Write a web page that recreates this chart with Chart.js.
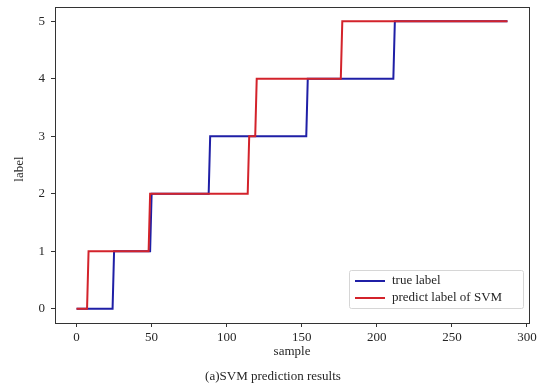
<!DOCTYPE html>
<html>
<head>
<meta charset="utf-8">
<script src="https://cdn.jsdelivr.net/npm/chart.js@4/dist/chart.umd.min.js"></script>
<style>
html,body{margin:0;padding:0;background:#fff;}
#wrap{width:544px;height:386px;position:relative;}
</style>
</head>
<body>
<div id="wrap"><canvas id="c" width="544" height="386"></canvas></div>
<script>
// Breakpoints of the step series (sample index, class label)
const trueX = [0, 24, 25, 49, 50, 88, 89, 153, 154, 211, 212, 287];
const trueY = [0, 0, 1, 1, 2, 2, 3, 3, 4, 4, 5, 5];
const predX = [0, 7, 8, 48, 49, 114, 115, 119, 120, 176, 177, 287];
const predY = [0, 0, 1, 1, 2, 2, 3, 3, 4, 4, 5, 5];
const xTicks = [0, 50, 100, 150, 200, 250, 300];
const yTicks = [0, 1, 2, 3, 4, 5];
const seriesNames = ['true label', 'predict label of SVM'];
const xTitle = 'sample';
const yTitle = 'label';
const caption = '(a)SVM prediction results';

const BLUE = '#1f1fa6';
const RED = '#d3232b';
const FONT = "'Liberation Serif', 'Times New Roman', serif";
const TXT = '#262626';

const toPts = (xs, ys) => xs.map((x, i) => ({x: x, y: ys[i]}));

const framePlugin = {
  id: 'frame',
  afterDraw(chart) {
    const {ctx, chartArea: a} = chart;
    ctx.save();
    ctx.strokeStyle = '#333';
    ctx.lineWidth = 1;
    ctx.strokeRect(Math.round(a.left) + 0.5, Math.round(a.top) + 0.5,
      Math.round(a.right - a.left), Math.round(a.bottom - a.top));
    // legend box inside plot, lower right
    const bw = 174, bh = 38;
    const bx = a.right - 6 - bw, by = a.bottom - 15 - bh;
    ctx.fillStyle = 'rgba(255,255,255,0.8)';
    ctx.strokeStyle = '#d6d6d6';
    ctx.beginPath();
    if (ctx.roundRect) ctx.roundRect(bx + 0.5, by + 0.5, bw, bh, 2); else ctx.rect(bx + 0.5, by + 0.5, bw, bh);
    ctx.fill(); ctx.stroke();
    ctx.font = '13px ' + FONT;
    ctx.textBaseline = 'middle';
    ctx.textAlign = 'left';
    const rows = [BLUE, RED];
    rows.forEach((col, i) => {
      const yy = by + 11 + i * 17;
      ctx.strokeStyle = col; ctx.lineWidth = 2;
      ctx.beginPath(); ctx.moveTo(bx + 6, yy); ctx.lineTo(bx + 36, yy); ctx.stroke();
      ctx.fillStyle = TXT;
      ctx.fillText(seriesNames[i], bx + 43, yy);
    });
    // axis titles and caption
    ctx.fillStyle = TXT;
    ctx.textAlign = 'center';
    ctx.fillText(xTitle, (a.left + a.right) / 2, 352);
    ctx.fillText(caption, 273, 377);
    ctx.save();
    ctx.translate(20, (a.top + a.bottom) / 2 + 4);
    ctx.rotate(-Math.PI / 2);
    ctx.fillText(yTitle, 0, 0);
    ctx.restore();
    ctx.restore();
  }
};

new Chart(document.getElementById('c'), {
  type: 'line',
  data: {
    datasets: [
      {label: seriesNames[1], data: toPts(predX, predY), borderColor: RED, borderWidth: 2,
       pointRadius: 0, tension: 0, fill: false, order: 0},
      {label: seriesNames[0], data: toPts(trueX, trueY), borderColor: BLUE, borderWidth: 2,
       pointRadius: 0, tension: 0, fill: false, order: 1}
    ]
  },
  options: {
    responsive: false,
    animation: false,
    devicePixelRatio: 1,
    layout: {padding: {top: 7, right: 15, left: 0, bottom: 0}},
    plugins: {legend: {display: false}, tooltip: {enabled: false}},
    scales: {
      x: {
        type: 'linear', min: -14.35, max: 301.35,
        afterBuildTicks: s => { s.ticks = xTicks.map(v => ({value: v})); },
        afterFit: s => { s.height = 63; s.paddingLeft = 0; s.paddingRight = 0; },
        grid: {display: true, drawOnChartArea: false, drawTicks: true, tickLength: 4, color: '#333'},
        border: {display: true, color: '#333'},
        ticks: {color: TXT, font: {family: FONT, size: 13}, padding: 3, maxRotation: 0},
        title: {display: false}
      },
      y: {
        type: 'linear', min: -0.25, max: 5.25,
        afterBuildTicks: s => { s.ticks = yTicks.map(v => ({value: v})); },
        afterFit: s => { s.width = 55; s.paddingTop = 0; s.paddingBottom = 0; },
        grid: {display: true, drawOnChartArea: false, drawTicks: true, tickLength: 4, color: '#333'},
        border: {display: true, color: '#333'},
        ticks: {color: TXT, font: {family: FONT, size: 13}, padding: 6},
        title: {display: false}
      }
    }
  },
  plugins: [framePlugin]
});
</script>
</body>
</html>
